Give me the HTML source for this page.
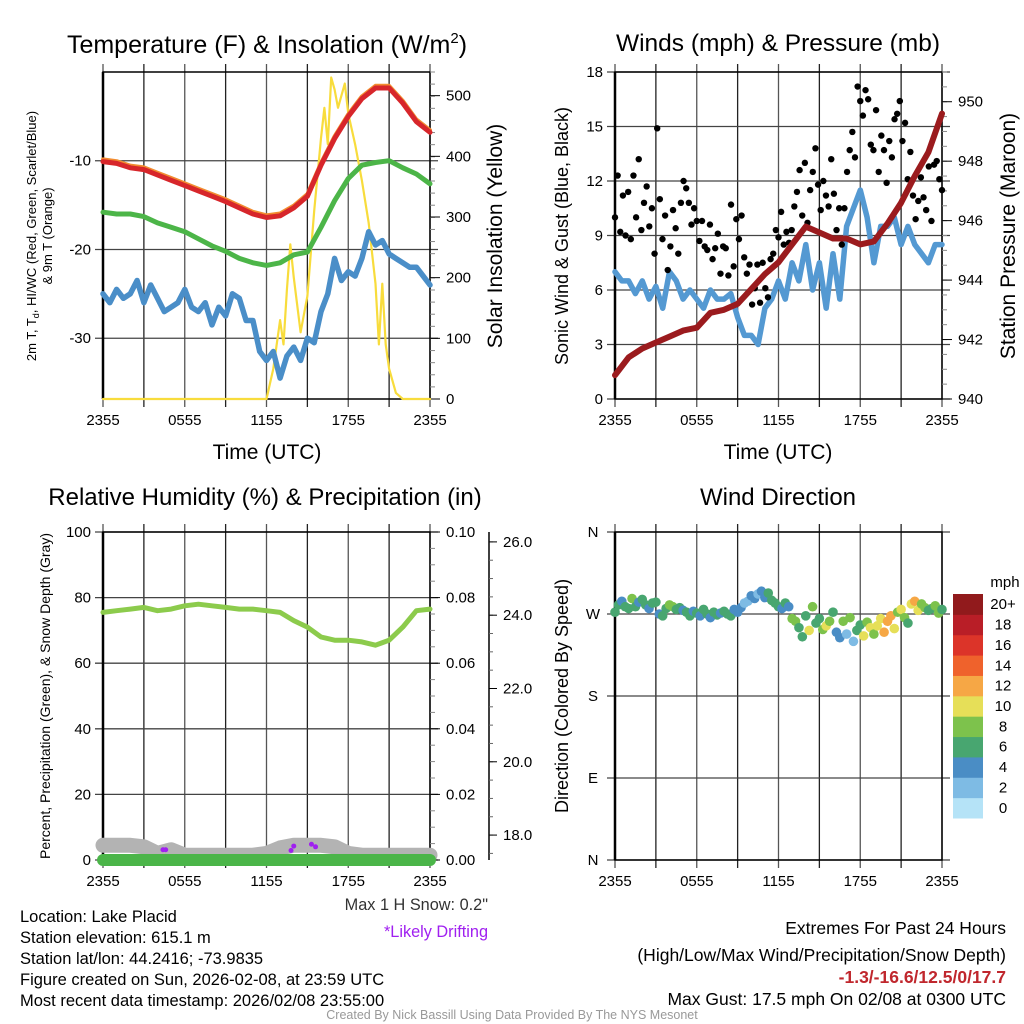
<!DOCTYPE html>
<html><head><meta charset="utf-8"><style>
html,body{margin:0;padding:0;background:#fff}
svg{display:block;font-family:"Liberation Sans",sans-serif}
</style></head><body>
<svg id="fig" width="1024" height="1024" viewBox="0 0 1024 1024">
<rect width="1024" height="1024" fill="#fff"/>
<g id="p1"></g>
<g id="p2"></g>
<g id="p3"></g>
<g id="p4"></g>

<text x="267" y="53" font-size="25" text-anchor="middle">Temperature (F) &amp; Insolation (W/m<tspan dy="-10" font-size="15">2</tspan><tspan dy="10">)</tspan></text>
<text x="778" y="51" font-size="24.5" text-anchor="middle">Winds (mph) &amp; Pressure (mb)</text>
<text x="265" y="505" font-size="24" text-anchor="middle">Relative Humidity (%) &amp; Precipitation (in)</text>
<text x="778" y="505" font-size="24" text-anchor="middle">Wind Direction</text>

<text transform="translate(36,236) rotate(-90)" font-size="13" text-anchor="middle">2m T, T<tspan font-size="9" dy="3">d</tspan><tspan dy="-3">, HI/WC (Red, Green, Scarlet/Blue)</tspan></text>
<text transform="translate(52,236) rotate(-90)" font-size="13" text-anchor="middle">&amp; 9m T (Orange)</text>
<text transform="translate(502,236) rotate(-90)" font-size="21" text-anchor="middle">Solar Insolation (Yellow)</text>
<text transform="translate(568,236) rotate(-90)" font-size="18" text-anchor="middle">Sonic Wind &amp; Gust (Blue, Black)</text>
<text transform="translate(1015,236) rotate(-90)" font-size="21" text-anchor="middle">Station Pressure (Maroon)</text>
<text transform="translate(50,696) rotate(-90)" font-size="14" text-anchor="middle">Percent, Precipitation (Green), &amp; Snow Depth (Gray)</text>
<text transform="translate(568,696) rotate(-90)" font-size="18" text-anchor="middle">Direction (Colored By Speed)</text>

<text x="267" y="459" font-size="21" text-anchor="middle">Time (UTC)</text>
<text x="778" y="459" font-size="21" text-anchor="middle">Time (UTC)</text>

<g font-size="16.5">
<text x="20" y="922">Location: Lake Placid</text>
<text x="20" y="943">Station elevation: 615.1 m</text>
<text x="20" y="964">Station lat/lon: 44.2416; -73.9835</text>
<text x="20" y="985">Figure created on Sun, 2026-02-08, at 23:59 UTC</text>
<text x="20" y="1006">Most recent data timestamp: 2026/02/08 23:55:00</text>
</g>
<text x="488" y="910" font-size="16.3" text-anchor="end" fill="#333">Max 1 H Snow: 0.2"</text>
<text x="488" y="937" font-size="16.3" text-anchor="end" fill="#a020f0">*Likely Drifting</text>
<g font-size="17.5" text-anchor="end">
<text x="1006" y="934">Extremes For Past 24 Hours</text>
<text x="1006" y="961">(High/Low/Max Wind/Precipitation/Snow Depth)</text>
<text x="1006" y="983" fill="#c0272d" font-weight="bold">-1.3/-16.6/12.5/0/17.7</text>
<text x="1006" y="1005">Max Gust: 17.5 mph On 02/08 at 0300 UTC</text>
</g>
<text x="512" y="1019" font-size="12.5" text-anchor="middle" fill="#999">Created By Nick Bassill Using Data Provided By The NYS Mesonet</text>
</svg>
<script>
// ---------- data ----------
const xTickLabels = ["2355","0555","1155","1755","2355"];
const tempHourly = [-10.1,-10.3,-10.8,-11.0,-11.6,-12.2,-12.8,-13.4,-14.0,-14.6,-15.3,-16.0,-16.4,-16.2,-15.3,-14.0,-10.5,-7.5,-5.0,-3.0,-1.8,-1.8,-3.5,-5.6,-6.8];
const dewHourly = [-15.8,-16.0,-16.0,-16.3,-17.0,-17.5,-18.0,-18.8,-19.6,-20.2,-21.0,-21.5,-21.8,-21.5,-20.6,-20.3,-17.5,-14.5,-12.0,-10.5,-10.2,-10.0,-10.8,-11.5,-12.6];
const windChillHalfHourly = [-25,-26,-24.5,-25.5,-25,-23.5,-26,-24,-25.5,-27,-26.5,-26,-24.5,-26.5,-27,-26,-28.5,-26.5,-27.5,-25,-25.5,-28,-28,-31.5,-32.5,-31.5,-34.5,-32,-31,-32.5,-30,-30.5,-27,-25,-21,-23.5,-22.5,-23,-21,-18,-19.5,-19,-20.5,-21,-21.5,-22,-22,-23,-24];
const solarHours = [0,12,12.5,13,13.25,13.5,13.75,14,14.5,15,15.5,16,16.25,16.5,16.75,17,17.25,17.5,17.75,18,18.5,19,19.5,20,20.25,20.5,20.75,21,21.5,22,24];
const solarValues = [0,0,50,130,90,180,255,200,110,170,310,430,480,420,530,510,480,500,520,470,420,360,290,190,90,190,90,50,10,0,0];
const tempTicks = [-10,-20,-30];
const solarTicks = [0,100,200,300,400,500];

const windHalfHourly = [7,6.5,6.5,5.8,6.5,5.5,6.2,5,7,6.5,5.5,6,5.5,5,6,5.5,5.5,5.8,4.5,3.5,3.5,3,5,5.5,6.5,5.5,7.5,6.5,8.5,6,7.5,5,8,5.5,9.5,10.5,11.5,10,7.5,9.5,9.5,10,8.5,9.5,8.5,8,7.5,8.5,8.5];
const gustQuarterHourly = [10,12.3,9.2,11.2,9,11.4,8.8,12.3,10,13.2,9.3,10.8,11.7,9.5,10.5,8,14.9,11,8.8,10.1,7.1,8.4,10.4,9.4,8,10.8,12,11.6,10.8,9.6,10.5,9.8,8.7,9.8,8.4,8.2,9.6,7.7,8.3,9.1,6.9,8.4,8.3,6.8,10.7,7.3,9.9,8.8,10.1,7.8,6.9,7.4,5.2,6.1,7.4,5.3,7.5,6.1,5.6,7.7,8,9.3,8.9,10.3,8.5,9.2,8.6,9.3,10.6,11.4,12.6,10.1,13,9.7,11.5,12.5,13.8,11.8,10.4,12,11.2,10.6,13.2,11.3,9.3,10.5,8.5,10.5,12.5,13.7,14.7,13.3,17.2,16.4,15.6,17,16.5,14,13.7,15.9,12.5,14.5,13.7,11.9,14.2,13.3,15.4,15.7,16.4,14.2,15.2,12.1,13.6,11.2,9.9,10.9,12.2,11.1,10.4,12.8,9.8,12.9,13.1,12.1,11.5];
const pressureHourly = [940.8,941.4,941.7,941.9,942.1,942.3,942.4,942.9,943.0,943.2,943.7,944.2,944.6,945.2,945.8,945.6,945.4,945.4,945.2,945.3,945.9,946.6,947.5,948.3,949.6];
const windTicks = [0,3,6,9,12,15,18];
const pressureTicks = [940,942,944,946,948,950];

const rhHourly = [75.5,76,76.5,77,76,76.5,77.5,78,77.5,77,76.5,76.5,76,75.5,73,71,68,67,67,66.5,65.5,67,71,76,76.5];
const precipHourly = [0,0,0,0,0,0,0,0,0,0,0,0,0,0,0,0,0,0,0,0,0,0,0,0,0];
const snowHourly = [17.72,17.72,17.72,17.68,17.5,17.6,17.45,17.45,17.45,17.45,17.45,17.45,17.5,17.65,17.72,17.72,17.72,17.68,17.5,17.45,17.45,17.45,17.45,17.45,17.45];
const driftHours = [4.4,4.6,13.8,14.0,15.3,15.6];
const driftValues = [17.6,17.6,17.58,17.7,17.75,17.68];
const rhTicks = [0,20,40,60,80,100];
const precipTicks = ["0.00","0.02","0.04","0.06","0.08","0.10"];
const snowTicks = [18,20,22,24,26];

const dirQuarterHourly = [272,280,284,278,276,287,278,283,286,280,276,282,283,270,268,276,280,278,275,277,274,272,268,273,271,268,275,270,266,272,269,271,273,270,268,275,272,277,282,284,290,287,292,295,288,293,285,282,278,276,282,278,265,262,255,245,268,252,278,260,265,253,257,262,272,250,244,262,248,266,240,252,258,246,261,255,248,257,265,250,262,268,254,272,275,266,260,281,284,274,281,277,274,276,279,271,275];
const speedQuarterHourly = [6,7,5,6,6,8,6,4,6,7,5,6,6,5,6,6,8,8,6,6,5,6,6,4,6,5,6,7,5,6,6,5,6,6,7,4,4,5,3,2,4,4,3,4,5,6,6,7,6,5,6,4,8,9,6,7,6,10,8,6,7,8,10,9,6,4,5,8,3,8,2,6,7,10,8,10,9,10,11,12,13,12,11,9,10,8,7,10,12,11,9,8,7,6,9,8,7];
const colorLevels = ["0","2","4","6","8","10","12","14","16","18","20+"];
const colorValues = ["#b5e3f7","#7ebbe4","#4a8dc5","#48a670","#7dc24c","#e6df58","#f6a745","#ef622c","#dc3429","#b91e27","#911a1c"];
const dirTicks = ["N","E","S","W","N"];

// ---------- helpers ----------
const NS="http://www.w3.org/2000/svg";
function mk(parent,tag,attrs){const e=document.createElementNS(NS,tag);for(const k in attrs)e.setAttribute(k,attrs[k]);parent.appendChild(e);return e;}
function lin(d0,d1,r0,r1){return v=>r0+(v-d0)/(d1-d0)*(r1-r0);}
function frame(g,x0,x1,y0,y1,hGrid){
  for(let i=0;i<=8;i++){const x=x0+i*(x1-x0)/8;
    const l=mk(g,'line',{x1:x,x2:x,y1:y0-8,y2:y1+8,stroke:i%2?'#222':'#555','stroke-width':1.3});
    
    }
  hGrid.forEach(y=>{const l=mk(g,'line',{x1:x0-8,x2:x1+8,y1:y,y2:y,stroke:'#444','stroke-width':1.3});
    
    });
  xTickLabels.forEach((t,i)=>{const tx=mk(g,'text',{x:x0+i*(x1-x0)/4,y:y1+26,'font-size':15,'text-anchor':'middle'});tx.textContent=t;
    
    });
  const b=mk(g,'rect',{x:x0,y:y0,width:x1-x0,height:y1-y0,fill:'none',stroke:'#000','stroke-width':1.5});
  
  
  mk(g,'line',{x1:x0,x2:x0,y1:y0,y2:y1,stroke:'#000','stroke-width':2.5});
}
function tickLabel(g,x,y,t,anchor,name){const tx=mk(g,'text',{x:x,y:y+5,'font-size':15,'text-anchor':anchor});tx.textContent=t;
  
  }
function poly(g,pts,color,w,name){const p=mk(g,'polyline',{points:pts.map(p=>p[0].toFixed(1)+','+p[1].toFixed(1)).join(' '),fill:'none',stroke:color,'stroke-width':w,'stroke-linejoin':'round','stroke-linecap':'round'});
  
  return p;}
function minorTicks(g,x,y0,y1,n){for(let i=0;i<=n;i++){const y=y0+i*(y1-y0)/n;mk(g,'line',{x1:x,x2:x+5,y1:y,y2:y,stroke:'#888','stroke-width':1});}}

// ---------- panel 1 ----------
(function(){
  const g=document.getElementById('p1');const X0=103,X1=430,Y0=72,Y1=399;
  const xs=lin(0,24,X0,X1), ys=lin(-36.85,0,Y1,Y0), ss=lin(0,539,Y1,Y0);
  frame(g,X0,X1,Y0,Y1,tempTicks.map(ys));
  minorTicks(g,X1,Y0,Y1,27);
  tempTicks.forEach(v=>tickLabel(g,X0-12,ys(v),v,'end','temperature-tick'));
  solarTicks.forEach(v=>{mk(g,'line',{x1:X1,x2:X1+10,y1:ss(v),y2:ss(v),stroke:'#000'});tickLabel(g,X1+16,ss(v),v,'start','solar-tick');});
  poly(g,solarHours.map((h,i)=>[xs(h),ss(solarValues[i])]),'#f8dc3c',2.2,'solar-line');
  poly(g,windChillHalfHourly.map((v,i)=>[xs(i/2),ys(v)]),'#4a8ec8',5.5,'wind-chill-line');
  poly(g,dewHourly.map((v,i)=>[xs(i),ys(v)]),'#4cb548',5,'dewpoint-line');
  poly(g,tempHourly.map((v,i)=>[xs(i),ys(v+0.25)]),'#f28c30',4,'temp-9m-line');
  poly(g,tempHourly.map((v,i)=>[xs(i),ys(v)]),'#d7262b',5,'temperature-line');
})();

// ---------- panel 2 ----------
(function(){
  const g=document.getElementById('p2');const X0=615,X1=942,Y0=72,Y1=399;
  const xs=lin(0,24,X0,X1), ys=lin(0,18,Y1,Y0), ps=lin(940,951,Y1,Y0);
  frame(g,X0,X1,Y0,Y1,windTicks.map(ys));
  minorTicks(g,X1,Y1,Y0,22);
  windTicks.forEach(v=>tickLabel(g,X0-12,ys(v),v,'end','wind-tick'));
  pressureTicks.forEach(v=>{mk(g,'line',{x1:X1,x2:X1+10,y1:ps(v),y2:ps(v),stroke:'#000'});tickLabel(g,X1+16,ps(v),v,'start','pressure-tick');});
  poly(g,windHalfHourly.map((v,i)=>[xs(i/2),ys(v)]),'#5499d2',5.5,'sonic-wind-line');
  gustQuarterHourly.forEach((v,i)=>{const c=mk(g,'circle',{cx:xs(i*24/(gustQuarterHourly.length-1)),cy:ys(v),r:3.2,fill:'#000'});
    
    });
  poly(g,pressureHourly.map((v,i)=>[xs(i),ps(v)]),'#9b1b1e',6,'pressure-line');
})();

// ---------- panel 3 ----------
(function(){
  const g=document.getElementById('p3');const X0=103,X1=430,Y0=532,Y1=860;
  const xs=lin(0,24,X0,X1), ys=lin(0,100,Y1,Y0), sn=lin(17.32,26.27,Y1,Y0);
  frame(g,X0,X1,Y0,Y1,rhTicks.map(ys));
  minorTicks(g,X1,Y0,Y1,20);
  rhTicks.forEach(v=>tickLabel(g,X0-12,ys(v),v,'end','humidity-tick'));
  precipTicks.forEach((t,i)=>{const y=ys(i*20);mk(g,'line',{x1:X1,x2:X1+10,y1:y,y2:y,stroke:'#000'});tickLabel(g,X1+16,y,t,'start','precip-tick');});
  mk(g,'line',{x1:489,x2:489,y1:Y0,y2:Y1,stroke:'#000','stroke-width':1.5});
  for(let v=17.5;v<=26.2;v+=0.5){mk(g,'line',{x1:489,x2:493,y1:sn(v),y2:sn(v),stroke:'#666'});}
  snowTicks.forEach(v=>{mk(g,'line',{x1:489,x2:497,y1:sn(v),y2:sn(v),stroke:'#000'});tickLabel(g,503,sn(v),v.toFixed(1),'start','snow-tick');});
  poly(g,snowHourly.map((v,i)=>[xs(i),sn(v)]),'#b3b3b3',15,'snow-depth-line');
  poly(g,precipHourly.map((v,i)=>[xs(i),ys(v*1000)]),'#4bb549',12,'precip-line');
  driftHours.forEach((h,i)=>{const c=mk(g,'circle',{cx:xs(h),cy:sn(driftValues[i]),r:2.5,fill:'#a020f0'});
    
    });
  poly(g,rhHourly.map((v,i)=>[xs(i),ys(v)]),'#8ccb4c',5,'humidity-line');
})();

// ---------- panel 4 ----------
(function(){
  const g=document.getElementById('p4');const X0=615,X1=942,Y0=532,Y1=860;
  const xs=lin(0,24,X0,X1), ds=lin(0,360,Y1,Y0);
  frame(g,X0,X1,Y0,Y1,[0,90,180,270,360].map(ds));
  dirTicks.forEach((t,i)=>tickLabel(g,X0-22,ds(i*90),t,'middle','direction-tick'));
  const cs=lin(0,11,818,594);
  function col(s){let k=Math.floor(s/2);if(k>10)k=10;if(k<0)k=0;return colorValues[k];}
  dirQuarterHourly.forEach((d,i)=>{const c=mk(g,'circle',{cx:xs(i*24/(dirQuarterHourly.length-1)),cy:ds(d),r:4.8,fill:col(speedQuarterHourly[i])});
    
    });
  colorValues.forEach((c,i)=>{const r=mk(g,'rect',{x:953,y:cs(i+1),width:30,height:cs(i)-cs(i+1)+0.5,fill:c});
    
    
    tickLabel(g,1003,(cs(i)+cs(i+1))/2,colorLevels[i],'middle','colorbar-label');});
  const m=mk(g,'text',{x:1005,y:587,'font-size':15,'text-anchor':'middle'});m.textContent='mph';
  
  
})();
</script>
</body></html>
